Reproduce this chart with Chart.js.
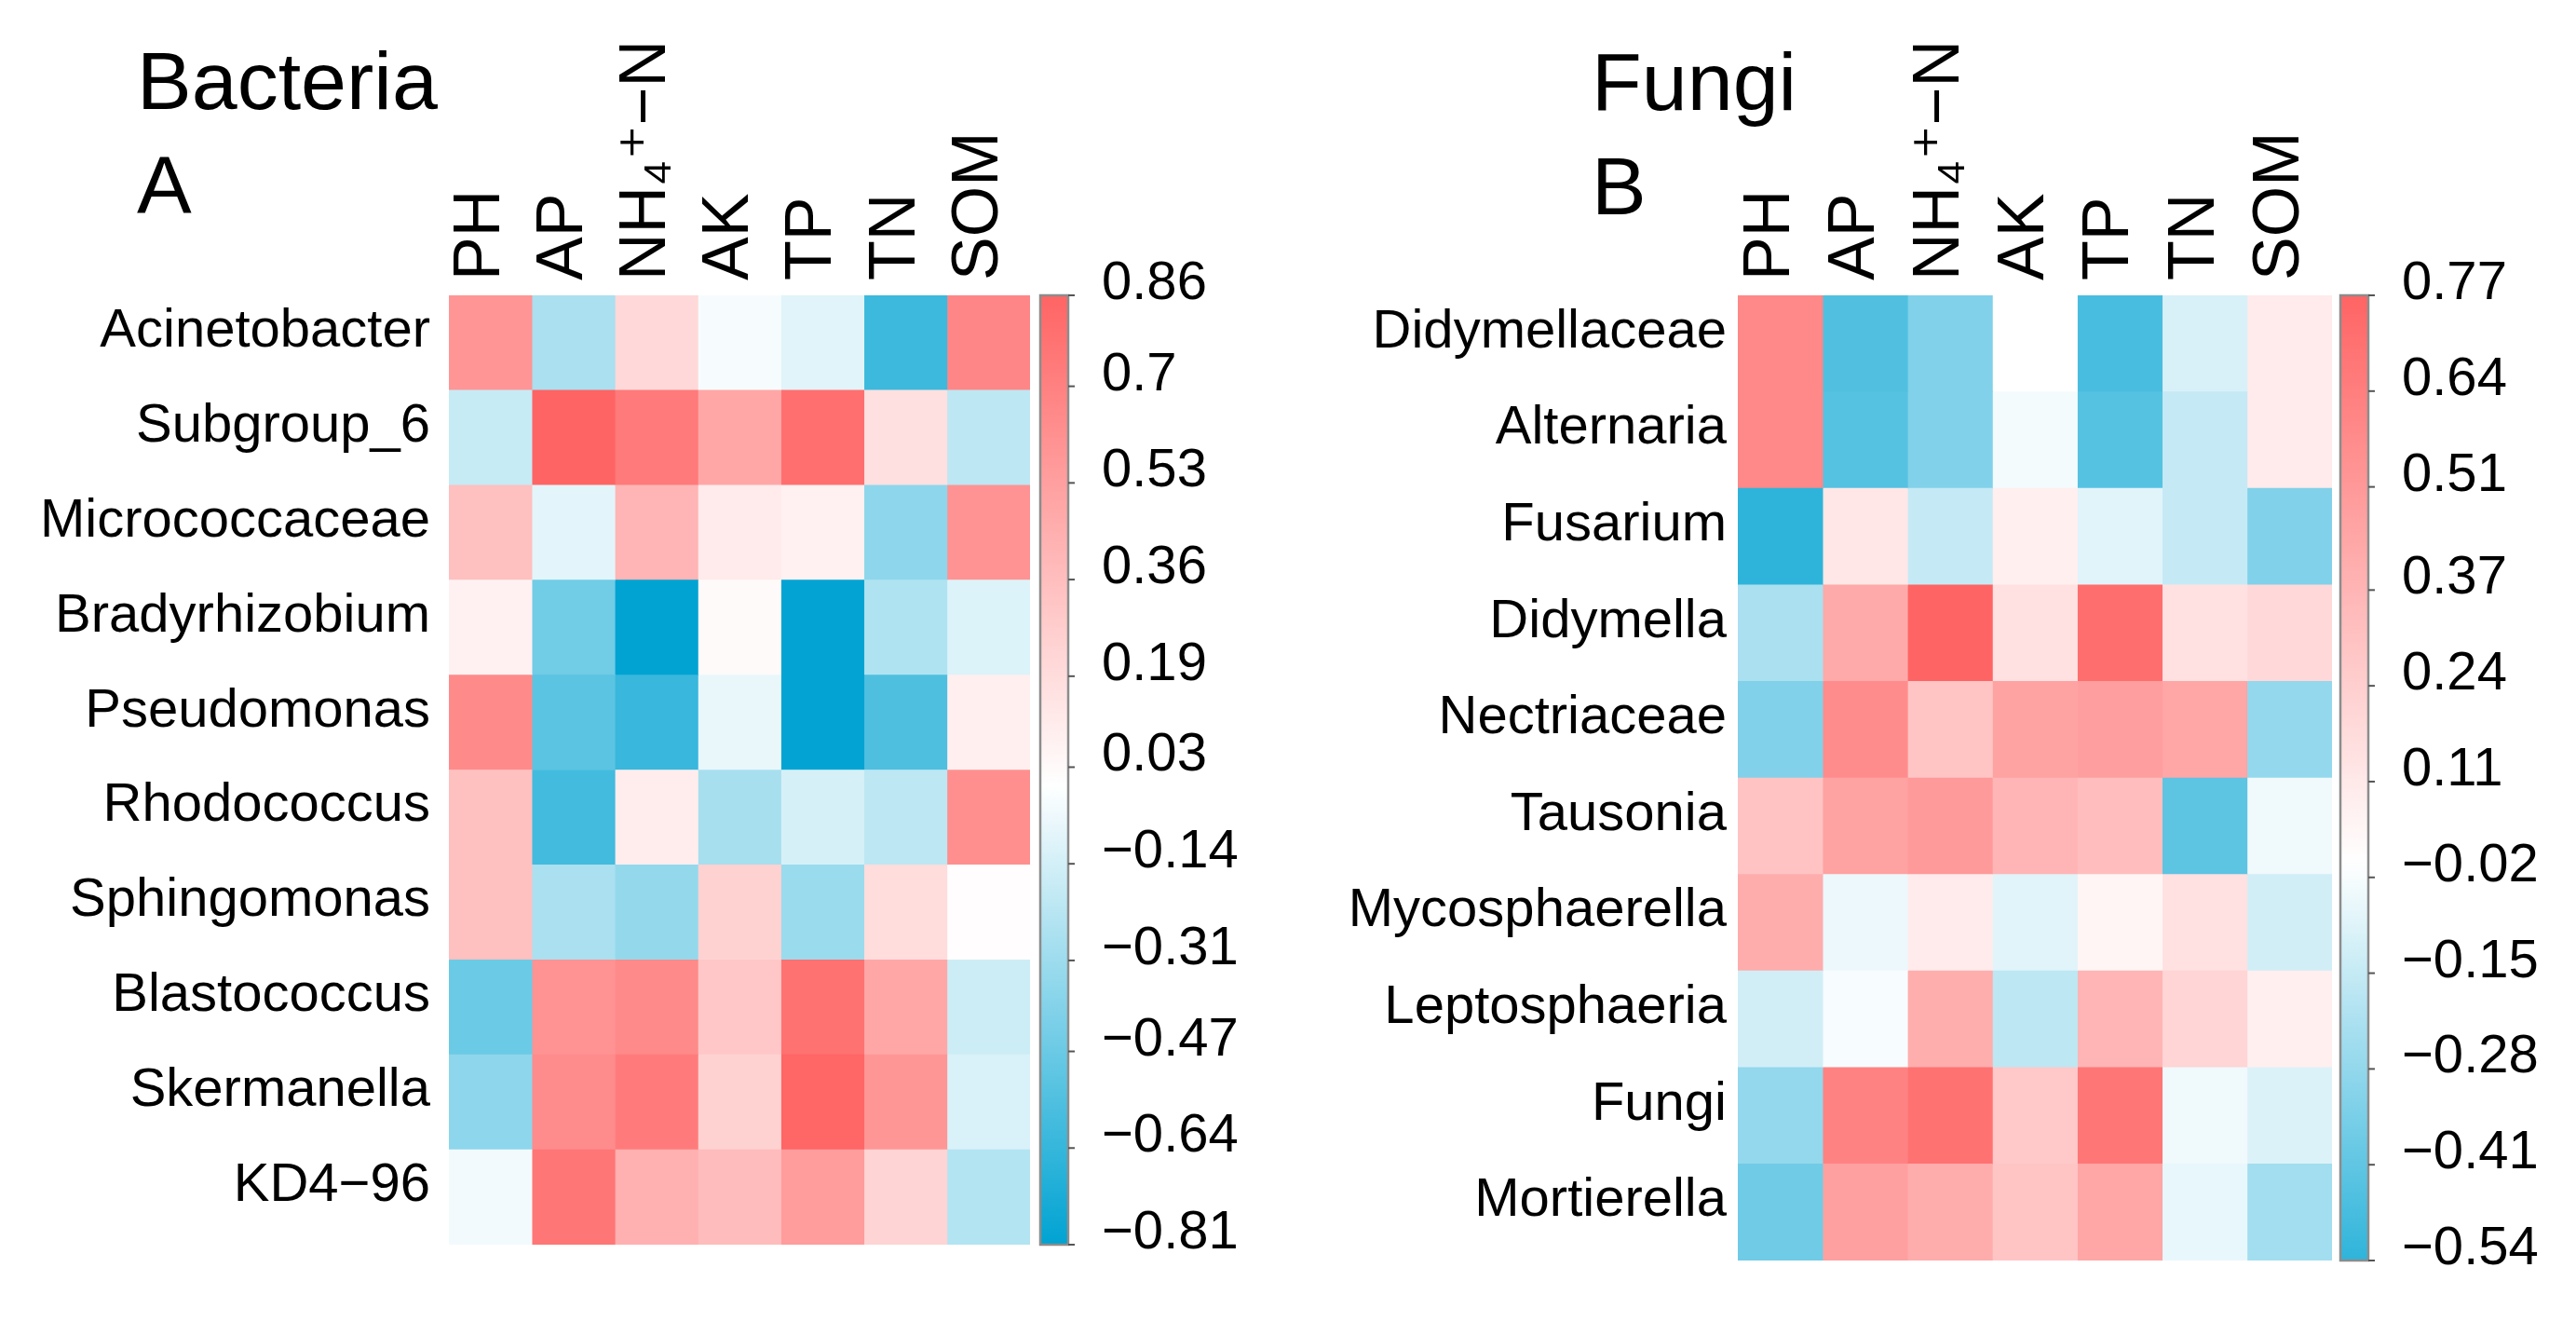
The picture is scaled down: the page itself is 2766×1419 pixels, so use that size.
<!DOCTYPE html>
<html>
<head>
<meta charset="utf-8">
<script src="https://cdn.jsdelivr.net/npm/chart.js@4.4.1/dist/chart.umd.min.js"></script>
<style>
  html, body { margin: 0; padding: 0; background: #fff; }
  #wrap { position: relative; width: 2766px; height: 1419px; overflow: hidden; }
  .panel { position: absolute; top: 0; height: 1419px; }
  .title { position: absolute; font-family: 'Liberation Sans', Arial, sans-serif; font-size: 88px; line-height: 1; color: #000; }
</style>
</head>
<body>
<div id="wrap">
  <div class="panel" style="left:0;width:1400px"><canvas id="bacteriaChart"></canvas></div>
  <div class="panel" style="left:1400px;width:1366px"><canvas id="fungiChart"></canvas></div>
  <div class="title" style="left:147px;top:43px">Bacteria</div>
  <div class="title" style="left:147px;top:155px">A</div>
  <div class="title" style="left:1709px;top:44px">Fungi</div>
  <div class="title" style="left:1709px;top:156px">B</div>
</div>
<script>
// soil properties (columns)
const soilFactors = ['PH', 'AP', 'NH\u2084\u207A\u2212N', 'AK', 'TP', 'TN', 'SOM'];

// bacteria
const bacteriaTaxa = ['Acinetobacter', 'Subgroup_6', 'Micrococcaceae', 'Bradyrhizobium', 'Pseudomonas',
  'Rhodococcus', 'Sphingomonas', 'Blastococcus', 'Skermanella', 'KD4\u221296'];
const bacteriaCorr = [
  [ 0.59, -0.27,  0.21, -0.03, -0.10, -0.62,  0.67],
  [-0.18,  0.86,  0.74,  0.49,  0.80,  0.17, -0.21],
  [ 0.35, -0.09,  0.41,  0.11,  0.08, -0.36,  0.60],
  [ 0.08, -0.45, -0.81,  0.03, -0.80, -0.25, -0.11],
  [ 0.65, -0.52, -0.63, -0.07, -0.80, -0.56,  0.09],
  [ 0.35, -0.60,  0.10, -0.28, -0.13, -0.21,  0.62],
  [ 0.35, -0.27, -0.34,  0.25, -0.32,  0.19,  0.01],
  [-0.47,  0.60,  0.65,  0.31,  0.78,  0.49, -0.16],
  [-0.36,  0.64,  0.73,  0.25,  0.85,  0.58, -0.12],
  [-0.04,  0.76,  0.44,  0.37,  0.55,  0.24, -0.24]
];
const bacteriaScale = [0.86, 0.7, 0.53, 0.36, 0.19, 0.03, -0.14, -0.31, -0.47, -0.64, -0.81];

// fungi
const fungiTaxa = ['Didymellaceae', 'Alternaria', 'Fusarium', 'Didymella', 'Nectriaceae',
  'Tausonia', 'Mycosphaerella', 'Leptosphaeria', 'Fungi', 'Mortierella'];
const fungiCorr = [
  [ 0.59, -0.45, -0.33,  0.00, -0.47, -0.10,  0.10],
  [ 0.59, -0.44, -0.33, -0.03, -0.44, -0.15,  0.10],
  [-0.54,  0.12, -0.15,  0.08, -0.08, -0.15, -0.33],
  [-0.22,  0.42,  0.77,  0.15,  0.72,  0.15,  0.19],
  [-0.33,  0.57,  0.29,  0.46,  0.48,  0.44, -0.28],
  [ 0.30,  0.46,  0.50,  0.37,  0.33, -0.42, -0.04],
  [ 0.41, -0.05,  0.10, -0.08,  0.05,  0.15, -0.12],
  [-0.12, -0.02,  0.40, -0.17,  0.37,  0.21,  0.08],
  [-0.28,  0.62,  0.70,  0.27,  0.68, -0.04, -0.09],
  [-0.37,  0.47,  0.41,  0.29,  0.44, -0.06, -0.24]
];
const fungiScale = [0.77, 0.64, 0.51, 0.37, 0.24, 0.11, -0.02, -0.15, -0.28, -0.41, -0.54];

const FONT = "'Liberation Sans', 'DejaVu Sans', Arial, sans-serif";
const hot = [255, 100, 100];
const cold = [0, 163, 210];

function corrColor(v, posRef, negRef) {
  const t = v >= 0 ? Math.min(v / posRef, 1) : Math.min(-v / negRef, 1);
  const c = v >= 0 ? hot : cold;
  const m = k => Math.round(255 + (c[k] - 255) * t);
  return 'rgb(' + m(0) + ',' + m(1) + ',' + m(2) + ')';
}

function fmt(v) {
  return v < 0 ? '\u2212' + String(Math.abs(v)) : String(v);
}

// gradient bar + tick marks next to the 'cb' axis
const colorbarPlugin = {
  id: 'colorbar',
  afterDraw(chart, args, opts) {
    const s = chart.scales.cb;
    const ctx = chart.ctx;
    const x0 = chart.chartArea.right + opts.gap;
    const w = 30;
    const yTop = s.getPixelForValue(s.max);
    const yBot = s.getPixelForValue(s.min);
    const g = ctx.createLinearGradient(0, yTop, 0, yBot);
    const n = 60;
    for (let i = 0; i <= n; i++) {
      const v = s.max - (s.max - s.min) * i / n;
      g.addColorStop(i / n, corrColor(v, opts.posRef, opts.negRef));
    }
    ctx.save();
    ctx.fillStyle = g;
    ctx.fillRect(x0, yTop, w, yBot - yTop);
    ctx.strokeStyle = '#8c8c8c';
    ctx.lineWidth = 2.5;
    ctx.strokeRect(x0, yTop, w, yBot - yTop);
    ctx.strokeStyle = '#555';
    ctx.lineWidth = 2;
    s.ticks.forEach(t => {
      const y = s.getPixelForValue(t.value);
      ctx.beginPath();
      ctx.moveTo(x0 + w, y);
      ctx.lineTo(x0 + w + 7, y);
      ctx.stroke();
    });
    ctx.restore();
  }
};

// invisible tick marks push the labels sideways without adding vertical padding
const hiddenTicks = len => ({ display: true, drawOnChartArea: false, drawTicks: true, tickLength: len, color: 'rgba(0,0,0,0)' });

function makeHeatmap(id, taxa, corr, scaleTicks, box) {
  const datasets = soilFactors.map((f, c) => ({
    label: f,
    data: taxa.map(() => [c, c + 1]),
    backgroundColor: taxa.map((t, r) => corrColor(corr[r][c], box.posRef, box.negRef)),
    borderWidth: 0,
    barPercentage: 1.0,
    categoryPercentage: 1.0,
    grouped: false
  }));

  return new Chart(document.getElementById(id).getContext('2d'), {
    type: 'bar',
    data: { labels: taxa, datasets: datasets },
    options: {
      indexAxis: 'y',
      responsive: true,
      maintainAspectRatio: false,
      animation: false,
      devicePixelRatio: 1,
      layout: { padding: { left: 0, right: 0, top: 0, bottom: box.bottomPad } },
      scales: {
        x: { type: 'linear', min: 0, max: soilFactors.length, display: false },
        y: {
          type: 'category',
          position: 'left',
          grid: hiddenTicks(box.rowPad),
          border: { display: false },
          ticks: { color: '#000', font: { family: FONT, size: 58 }, padding: 0, labelOffset: -12, autoSkip: false },
          afterFit: s => { s.width = box.left; }
        },
        cols: {
          type: 'category',
          axis: 'x',
          position: 'top',
          labels: soilFactors,
          offset: true,
          grid: { display: false, drawTicks: false },
          border: { display: false },
          ticks: { color: '#000', font: { family: FONT, size: 70 }, minRotation: 90, maxRotation: 90, padding: 16, labelOffset: 74, autoSkip: false },
          afterFit: s => { s.height = box.top; }
        },
        cb: {
          type: 'linear',
          position: 'right',
          offset: false,
          min: scaleTicks[scaleTicks.length - 1],
          max: scaleTicks[0],
          grid: hiddenTicks(box.cbPad),
          border: { display: false },
          afterBuildTicks: s => { s.ticks = scaleTicks.map(v => ({ value: v })); },
          ticks: { color: '#000', font: { family: FONT, size: 58 }, padding: 0, labelOffset: -12, callback: v => fmt(v) },
          afterFit: s => { s.width = box.width - box.right; }
        }
      },
      plugins: {
        legend: { display: false },
        tooltip: { enabled: false },
        colorbar: { gap: box.gap, posRef: box.posRef, negRef: box.negRef }
      }
    },
    plugins: [colorbarPlugin]
  });
}

makeHeatmap('bacteriaChart', bacteriaTaxa, bacteriaCorr, bacteriaScale,
  { left: 482, right: 1106, top: 317, bottomPad: 83, width: 1400, rowPad: 20, cbPad: 77, gap: 11, posRef: 0.86, negRef: 0.81 });
makeHeatmap('fungiChart', fungiTaxa, fungiCorr, fungiScale,
  { left: 466, right: 1104, top: 317, bottomPad: 66, width: 1366, rowPad: 12, cbPad: 75, gap: 9, posRef: 0.77, negRef: 0.66 });
</script>
</body>
</html>
